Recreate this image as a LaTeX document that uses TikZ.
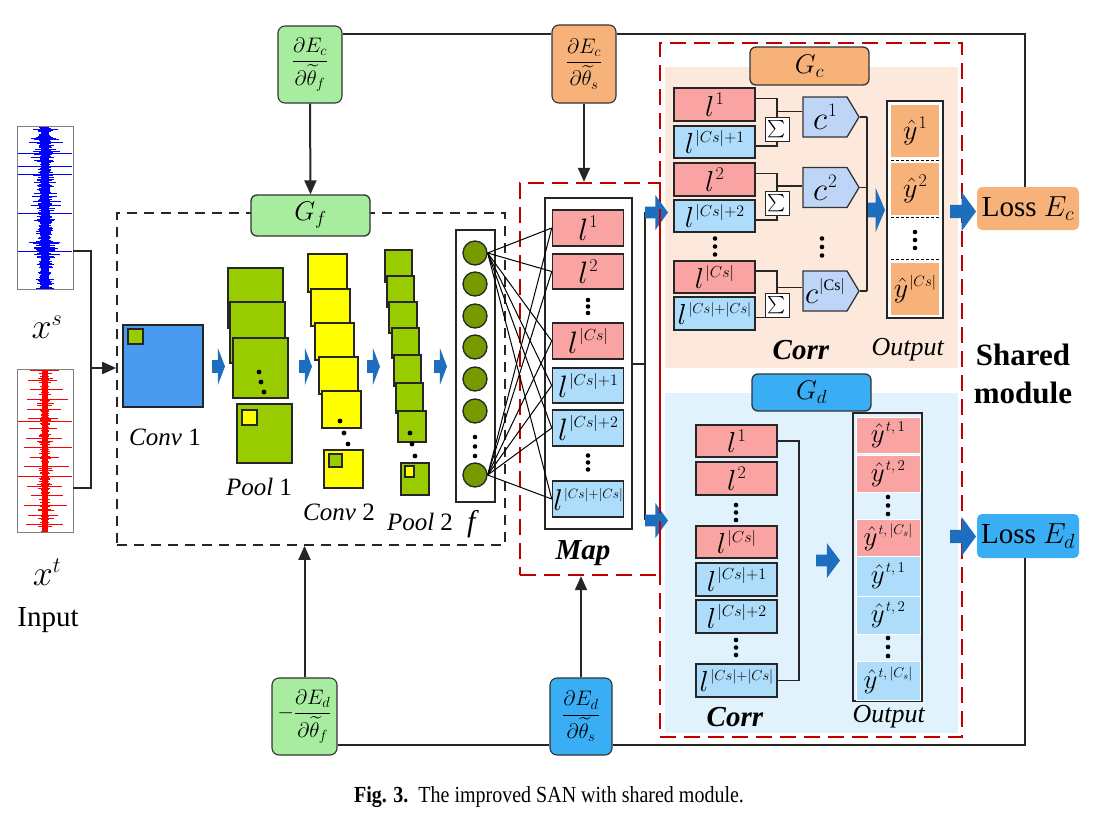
\RequirePackage{fix-cm}
\documentclass[tikz,border=0pt]{standalone}
\usepackage{amsmath}
\usepackage{fontspec}
\setmainfont{Liberation Serif}
\usetikzlibrary{arrows.meta,calc,shapes.symbols}
\definecolor{gfgreen}{HTML}{A8ECA0}
\definecolor{orng}{HTML}{F7B27A}
\definecolor{gcbg}{HTML}{FDE9DB}
\definecolor{gdbg}{HTML}{E0F3FD}
\definecolor{brblue}{HTML}{3AAEF5}
\definecolor{lred}{HTML}{F9A3A3}
\definecolor{lblue}{HTML}{ADDDFA}
\definecolor{cblue}{HTML}{BFD5F7}
\definecolor{convblue}{HTML}{4A9BF0}
\definecolor{sqgreen}{HTML}{99CC00}
\definecolor{sqyellow}{HTML}{FFFF00}
\definecolor{circgreen}{HTML}{779A00}
\definecolor{arrblue}{HTML}{1E6EC0}
\definecolor{dred}{HTML}{C00000}
\definecolor{sigblue}{HTML}{0000FF}
\definecolor{sigred}{HTML}{FF0000}
\newcommand\myfs[1]{\fontsize{#1}{#1}\selectfont}
\newcommand\lsp[3]{{\myfs{#1}$l$\kern1.5pt\raisebox{\dimexpr #1pt*2/5\relax}{\myfs{#2}$#3$}}}
\newcommand\ysp[3]{{\myfs{#1}$\hat{y}$\kern1pt\raisebox{\dimexpr #1pt*2/5\relax}{\myfs{#2}$#3$}}}
\newcommand\csp[3]{{\myfs{#1}$c$\kern1pt\raisebox{\dimexpr #1pt*2/5\relax}{\myfs{#2}$#3$}}}
\newcommand\blkarrow[4]{%
  \fill[arrblue] ({#1},{#2+0.33*#4}) -- ({#1+0.45*#3},{#2+0.33*#4}) -- ({#1+0.45*#3},{#2}) -- ({#1+#3},{#2+0.5*#4}) -- ({#1+0.45*#3},{#2+#4}) -- ({#1+0.45*#3},{#2+0.67*#4}) -- ({#1},{#2+0.67*#4}) -- cycle;}
\newcommand\threedots[3]{%
  \fill (#1,{#2-#3}) circle[radius=2.3pt] (#1,#2) circle[radius=2.3pt] (#1,{#2+#3}) circle[radius=2.3pt];}
\begin{document}
\begin{tikzpicture}[x=1pt,y=-1pt,
  conn/.style={line width=2pt, draw=black!85},
  thin/.style={line width=1.1pt, draw=black!85},
  arr/.style={conn,-{Triangle[length=14pt,width=12pt]}},
  gradbox/.style={draw=black!80, line width=1.1pt, rounded corners=7pt, inner sep=0pt},
  labbox/.style={draw=black!80, line width=1.3pt, rounded corners=6pt, inner sep=0pt, minimum width=119pt},
  cell/.style={draw=black!85, line width=1.5pt, inner sep=0pt},
  redcell/.style={cell, fill=lred},
  bluecell/.style={cell, fill=lblue},
  sq/.style={draw=black!85, line width=1.3pt},
  reddash/.style={draw=dred, line width=2.4pt, dash pattern=on 16pt off 8pt, inner sep=0pt},
  circ/.style={circle, fill=circgreen, draw=black!85, line width=1.3pt, minimum size=24pt, inner sep=0pt},
  sumbox/.style={draw=black!85, fill=white, line width=1pt, minimum width=24pt, minimum height=24pt, inner sep=0pt},
  cshape/.style={signal, signal to=east, signal pointer angle=118, fill=cblue, draw=black!80, line width=1.3pt, minimum width=56pt, minimum height=40pt, inner sep=0pt},
  ycell/.style={draw=white, line width=0.6pt, minimum width=64pt, inner sep=0pt},
  lab/.style={inner sep=0pt}
]
\useasboundingbox (0,0) rectangle (1105,819);
\fill[white] (0,0) rectangle (1105,819);

% ---------- input signals ----------
\node[draw=black!50, line width=0.6pt, minimum width=56pt, minimum height=163pt, inner sep=0pt] (sigs) at (45,207.5) {};
\node[draw=black!50, line width=0.6pt, minimum width=56pt, minimum height=163pt, inner sep=0pt] (sigt) at (45,450.5) {};
\pgfmathsetseed{7}
\begin{scope}
\clip (17,126) rectangle (73,289);
\fill[sigblue] (41,127) rectangle (49,288);
\foreach \k in {0,...,150}{
  \pgfmathsetmacro\yy{127.5+\k*1.07}
  \pgfmathsetmacro\rr{4+13*rnd*rnd}
  \pgfmathsetmacro\rs{\rr*(0.6+0.8*rnd)}
  \draw[sigblue, line width=0.7pt] ({45-\rr},\yy) -- ({45+\rs},\yy);
}
\foreach \yy in {153,166,174,213,251}{
  \draw[sigblue, line width=0.6pt] (18,\yy) -- (72,\yy);
}
\end{scope}
\begin{scope}
\clip (17,369) rectangle (73,532);
\fill[sigred] (42,370) rectangle (48,531);
\foreach \k in {0,...,150}{
  \pgfmathsetmacro\yy{370.5+\k*1.07}
  \pgfmathsetmacro\rr{ifthenelse(mod(\k,9)==0, 14+8*rnd, 2+7*rnd*rnd)}
  \pgfmathsetmacro\rs{\rr*(0.7+0.6*rnd)}
  \draw[sigred, line width=0.7pt] ({45-\rr},\yy) -- ({45+\rs},\yy);
}
\foreach \yy in {421,476}{
  \draw[sigred, line width=0.6pt] (18,\yy) -- (72,\yy);
}
\end{scope}
\node[lab] (xs) at (47,327) {\myfs{36}$x^{\mbox{\myfs{22}$s$}}$};
\node[lab] (xt) at (47,572) {\myfs{36}$x^{\mbox{\myfs{22}$t$}}$};
\node[lab] (inp) at (48,620) {\myfs{29}Input};

% ---------- backgrounds of shared module ----------
\fill[gcbg] (665,67) rectangle (958,368);
\fill[gdbg] (665,393) rectangle (958,733);

% ---------- G_f box ----------
\node[draw=black!85, line width=1.7pt, dash pattern=on 10pt off 7pt, minimum width=388pt, minimum height=332pt, inner sep=0pt] (gfbox) at (311,379) {};
\node[labbox, fill=gfgreen, minimum height=41pt] (gflab) at (310.5,215.5) {\myfs{27}$G_f$};

\coordinate (brk) at (91,368);
\draw[conn] (sigs.east |- 0,251) -- (91,251) -- (91,488) -- (sigt.east |- 0,488);
\draw[arr] (brk) -- (gfbox.west |- brk);

% Conv 1
\filldraw[fill=convblue, sq, line width=1.5pt] (123,325) rectangle (203,407);
\filldraw[fill=sqgreen, sq] (128,329) rectangle (143,344);
\node[lab] (lconv1) at (165,437) {\myfs{25}\textit{Conv} 1};
% Pool 1
\foreach \xa/\ya/\xb/\yb in {228/268/283/328, 230/302/285/363, 233/338/288/398, 237/404/292/463}
  \filldraw[fill=sqgreen, sq] (\xa,\ya) rectangle (\xb,\yb);
\filldraw[fill=sqyellow, sq] (242,410) rectangle (257,425);
\fill (259,372) circle[radius=2.4pt] (261,382) circle[radius=2.4pt] (264,392) circle[radius=2.4pt];
\node[lab] (lpool1) at (259,487) {\myfs{25}\textit{Pool} 1};
% Conv 2
\foreach \xa/\ya/\xb/\yb in {308/254/347/292, 311/289/350/326, 315/323/354/360, 319/357/358/394, 322/391/361/428, 324/450/363/488}
  \filldraw[fill=sqyellow, sq] (\xa,\ya) rectangle (\xb,\yb);
\filldraw[fill=sqgreen, sq] (329,454) rectangle (342,467);
\fill (340,421) circle[radius=2.4pt] (344,433) circle[radius=2.4pt] (348,444) circle[radius=2.4pt];
\node[lab] (lconv2) at (339,512) {\myfs{25}\textit{Conv} 2};
% Pool 2
\foreach \xa/\ya/\xb/\yb in {385/250/412/282, 387/276/414/307, 389/302/417/333, 392/328/419/358, 394/355/421/386, 396/383/423/413, 398/411/426/442, 401/463/429/495}
  \filldraw[fill=sqgreen, sq] (\xa,\ya) rectangle (\xb,\yb);
\filldraw[fill=sqyellow, sq] (405,466) rectangle (414,477);
\fill (410,433) circle[radius=2.4pt] (412,444) circle[radius=2.4pt] (415,456) circle[radius=2.4pt];
\node[lab] (lpool2) at (420,522) {\myfs{25}\textit{Pool} 2};
% arrows
\blkarrow{212}{348}{13}{37}
\blkarrow{299}{348}{13}{37}
\blkarrow{367}{348}{13}{37}
\blkarrow{434}{348}{13}{37}

% f column
\node[draw=black!85, line width=1.2pt, fill=white, minimum width=39pt, minimum height=272pt, inner sep=0pt] (fcol) at (475.5,366) {};
\node[circ] (fc1) at (475,253) {};
\node[circ] (fc2) at (475,284) {};
\node[circ] (fc3) at (475,316) {};
\node[circ] (fc4) at (475,347) {};
\node[circ] (fc5) at (475,379) {};
\node[circ] (fc6) at (475,411) {};
\threedots{475}{446.5}{9.5}
\node[circ] (fc7) at (475,475) {};
\node[lab] (lf) at (473,524) {\myfs{30}\textit{f}};

% ---------- Map ----------
\node[reddash, minimum width=140pt, minimum height=392pt] (mapbox) at (590,379) {};
\node[draw=black!85, line width=1.2pt, fill=white, minimum width=87pt, minimum height=331pt, inner sep=0pt] (mapin) at (588.5,363.5) {};
\node[redcell, minimum width=71pt, minimum height=36pt] (m1) at (588,228) {\lsp{31}{18}{1}};
\node[redcell, minimum width=71pt, minimum height=35pt] (m2) at (588,271.5) {\lsp{31}{18}{2}};
\threedots{588}{306.5}{6.5}
\node[redcell, minimum width=71pt, minimum height=36pt] (m3) at (588,341) {\lsp{31}{16}{|Cs|}};
\node[bluecell, minimum width=71pt, minimum height=35pt] (m4) at (588,385.5) {\lsp{31}{16}{|Cs|{+}1}};
\node[bluecell, minimum width=71pt, minimum height=36pt] (m5) at (588,428) {\lsp{31}{16}{|Cs|{+}2}};
\threedots{588}{462.5}{7}
\node[bluecell, minimum width=71pt, minimum height=36pt] (m6) at (588,499) {\lsp{30}{13.5}{|Cs|{+}|Cs|}};
\node[lab] (lmap) at (583,553) {\myfs{29}\textbf{\textit{Map}}};
\foreach \s in {fc1,fc7}{
  \foreach \t in {m1,m2,m3,m4,m5,m6}{
    \draw[line width=1pt] (\s.east) -- (\t.west);
  }
}
\coordinate (mj) at (645,364);
\coordinate (mtop) at (645,212);
\coordinate (mbot) at (645,520);
\draw[conn] (mapin.east |- mj) -- (mj);
\draw[conn] (mtop) -- (mbot);
\blkarrow{645}{195}{23}{35}
\blkarrow{645}{503}{23}{35}

% ---------- Shared module ----------
\node[reddash, minimum width=302pt, minimum height=694pt] (shbox) at (811,390) {};

% G_c
\node[labbox, fill=orng, minimum height=38pt] (gclab) at (809.5,66) {\myfs{27}$G_c$};
\node[redcell, minimum width=81pt, minimum height=33pt] (r1) at (714.5,104.5) {\lsp{29}{18}{1}};
\node[bluecell, minimum width=81pt, minimum height=32pt] (b1) at (714.5,142) {\lsp{29}{16}{|Cs|{+}1}};
\node[redcell, minimum width=81pt, minimum height=33pt] (r2) at (714.5,179.5) {\lsp{29}{18}{2}};
\node[bluecell, minimum width=81pt, minimum height=32pt] (b2) at (714.5,216) {\lsp{29}{16}{|Cs|{+}2}};
\threedots{715}{246.5}{8}
\node[redcell, minimum width=81pt, minimum height=32pt] (r3) at (714.5,277) {\lsp{29}{16}{|Cs|}};
\node[bluecell, minimum width=81pt, minimum height=33pt] (b3) at (714.5,313.5) {\lsp{29}{14.5}{|Cs|{+}|Cs|}};

\node[sumbox] (s1) at (777,129) {\myfs{19}$\sum$};
\node[sumbox] (s2) at (777,203.5) {\myfs{19}$\sum$};
\node[sumbox] (s3) at (777,305) {\myfs{19}$\sum$};

\node[cshape] (c1) at (825,117) {\csp{33}{19}{1}\hspace{4pt}};
\node[cshape] (c2) at (825,187.5) {\csp{33}{19}{2}\hspace{4pt}};
\threedots{822}{247}{8.5}
\node[cshape] (c3) at (825,291) {\csp{31}{16}{|\mathrm{Cs}|}\hspace{5pt}};

\foreach \i in {1,2,3}{
  \draw[thin] ([yshift=6pt]r\i.east) -| (s\i.north);
  \draw[thin] ([yshift=-4pt]b\i.east) -| (s\i.south);
  \path ($(s\i.north)+(0,-5)$) coordinate (j\i);
  \draw[thin] (j\i) -- (j\i -| c\i.west);
}
\coordinate (cjx) at (867,117);
\foreach \i in {1,2,3}{
  \draw[thin] (c\i.east) -- (c\i.east -| cjx);
}
\draw[thin] (c1.east -| cjx) -- (c3.east -| cjx);
\blkarrow{868}{188}{17}{44}

\node[draw=black!85, line width=1.5pt, fill=white, minimum width=56pt, minimum height=217pt, inner sep=0pt] (oc) at (915,209.5) {};
\node[fill=orng, minimum width=48pt, minimum height=52pt, inner sep=0pt] (y1) at (915,131) {\ysp{28}{18}{1}};
\node[fill=orng, minimum width=48pt, minimum height=52pt, inner sep=0pt] (y2) at (915,189) {\ysp{28}{18}{2}};
\node[fill=orng, minimum width=48pt, minimum height=52pt, inner sep=0pt] (y3) at (915,289) {\ysp{28}{15}{|Cs|}};
\foreach \yy in {160,217.5,259}{
  \draw[line width=1pt, dash pattern=on 3pt off 2pt] (891,\yy) -- (939,\yy);
}
\threedots{915}{240}{8}

\blkarrow{950}{192}{26}{39}
\node[fill=orng, rounded corners=5pt, minimum width=102pt, minimum height=43pt, inner sep=0pt] (lossc) at (1028,208.5) {\myfs{29}Loss $E_c$};

\node[lab] (corr1) at (801,350) {\myfs{29}\textbf{\textit{Corr}}};
\node[lab] (out1) at (908,350) {\myfs{26}\textit{Output}};

\node[lab, align=center, font=\fontsize{31}{38}\selectfont\bfseries] (shared) at (1023,374) {Shared\\module};

% G_d
\node[labbox, fill=brblue, minimum height=37pt] (gdlab) at (811.5,392.5) {\myfs{27}$G_d$};
\node[redcell, minimum width=81pt, minimum height=32pt] (d1) at (736.5,441) {\lsp{29}{18}{1}};
\node[redcell, minimum width=81pt, minimum height=33pt] (d2) at (736.5,478.5) {\lsp{29}{18}{2}};
\threedots{736}{512.5}{7.5}
\node[redcell, minimum width=81pt, minimum height=32pt] (d3) at (736.5,542) {\lsp{29}{16}{|Cs|}};
\node[bluecell, minimum width=81pt, minimum height=33pt] (d4) at (736.5,579.5) {\lsp{29}{16}{|Cs|{+}1}};
\node[bluecell, minimum width=81pt, minimum height=33pt] (d5) at (736.5,616.5) {\lsp{29}{16}{|Cs|{+}2}};
\threedots{736}{647.5}{7.5}
\node[bluecell, minimum width=81pt, minimum height=33pt] (d6) at (736.5,680.5) {\lsp{29}{14.5}{|Cs|{+}|Cs|}};
\coordinate (dbx) at (799,441);
\draw[thin, line width=1.5pt] (d1.east) -- (d1.east -| dbx) -- (d6.east -| dbx) -- (d6.east);
\blkarrow{816}{543}{24}{35}

\node[draw=black!85, line width=1.5pt, fill=gdbg, minimum width=69pt, minimum height=288pt, inner sep=0pt] (od) at (887.5,557) {};
\node[ycell, fill=lred, minimum height=36pt] (e1) at (888,435) {\ysp{27}{15}{t,1}};
\node[ycell, fill=lred, minimum height=37pt] (e2) at (888,473.5) {\ysp{27}{15}{t,2}};
\threedots{888}{505.5}{8.5}
\node[ycell, fill=lred, minimum height=37pt] (e3) at (888,537.5) {\ysp{27}{14}{t,|C_s|}};
\node[ycell, fill=lblue, minimum height=40pt] (e4) at (888,576) {\ysp{27}{15}{t,1}};
\node[ycell, fill=lblue, minimum height=38pt] (e5) at (888,615) {\ysp{27}{15}{t,2}};
\threedots{888}{647}{9}
\node[ycell, fill=lblue, minimum height=39pt] (e6) at (888,680.5) {\ysp{27}{14}{t,|C_s|}};

\blkarrow{950}{517}{26}{39}
\node[fill=brblue, rounded corners=5pt, minimum width=102pt, minimum height=44pt, inner sep=0pt] (lossd) at (1028,536) {\myfs{29}Loss $E_d$};

\node[lab] (corr2) at (735,717) {\myfs{29}\textbf{\textit{Corr}}};
\node[lab] (out2) at (889,717) {\myfs{26}\textit{Output}};

% ---------- gradient boxes ----------
\node[gradbox, fill=gfgreen, minimum width=64pt, minimum height=77pt] (gfa) at (310,64.5) {\myfs{21}$\dfrac{\partial E_c}{\partial\widetilde{\theta}_f}$};
\node[gradbox, fill=orng, minimum width=64pt, minimum height=78pt] (gsa) at (584,64) {\myfs{21}$\dfrac{\partial E_c}{\partial\widetilde{\theta}_s}$};
\node[gradbox, fill=gfgreen, minimum width=65pt, minimum height=77pt] (gfb) at (304.5,716.5) {\myfs{21}$-\dfrac{\partial E_d}{\partial\widetilde{\theta}_f}$};
\node[gradbox, fill=brblue, minimum width=62pt, minimum height=77pt] (gsb) at (581,716.5) {\myfs{21}$\dfrac{\partial E_d}{\partial\widetilde{\theta}_s}$};

\coordinate (tr) at (1025,34);
\draw[conn] (gfa.east |- tr) -- (gsa.west |- tr);
\draw[conn] (gsa.east |- tr) -- (tr) -- (tr |- lossc.north);
\draw[arr] (gfa.south) -- (gflab.north);
\draw[arr] (gsa.south) -- (gsa.south |- mapbox.north);

\coordinate (br) at (1025,745);
\draw[conn] (gfb.east |- br) -- (gsb.west |- br);
\draw[conn] (gsb.east |- br) -- (br) -- (br |- lossd.south);
\draw[arr] (gfb.north) -- (gfb.north |- gfbox.south);
\draw[arr] (gsb.north) -- (gsb.north |- mapbox.south);

% caption
\node[lab] (cap) at (549,797) {\scalebox{1}[1.15]{\myfs{20}\textbf{Fig. 3.}\ \ The improved SAN with shared module.}};
\end{tikzpicture}
\end{document}
